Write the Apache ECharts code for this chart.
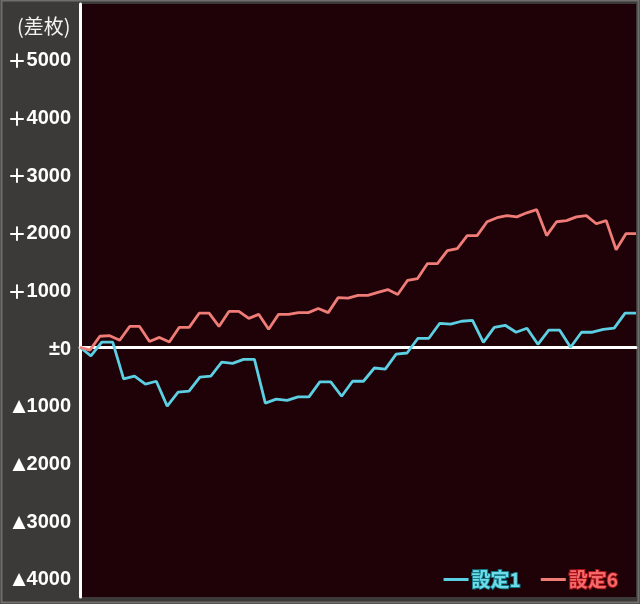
<!DOCTYPE html>
<html><head><meta charset="utf-8">
<script src="https://cdn.jsdelivr.net/npm/echarts@6/dist/echarts.min.js"></script>
<style>html,body{margin:0;padding:0;background:#3c3a39}#c{width:640px;height:604px}</style>
</head><body><div id="c"></div>
<script>
// Y-axis ticks and their labels
const yTicks = [5000, 4000, 3000, 2000, 1000, 0, -1000, -2000, -3000, -4000];
const yTickLabels = ['＋5000', '＋4000', '＋3000', '＋2000', '＋1000', '±0', '▲1000', '▲2000', '▲3000', '▲4000'];
const unitLabel = '(差枚)';
const name1 = '設定1';
const name6 = '設定6';
// 設定1 difference (coins) at each sample
const setting1 = [0, -150, 90, 90, -550, -500, -640, -590, -1020, -780, -760, -520, -500, -260, -280, -210, -210, -970, -900, -920, -860, -860, -600, -600, -850, -590, -590, -360, -380, -120, -100, 155, 155, 415, 400, 450, 465, 85, 345, 380, 260, 330, 50, 295, 295, 0, 260, 260, 310, 330, 590, 590];
// 設定6 difference (coins) at each sample
const setting6 = [0, -50, 190, 200, 120, 360, 360, 100, 170, 90, 345, 345, 590, 590, 360, 620, 620, 500, 570, 310, 570, 570, 600, 600, 670, 600, 860, 850, 900, 900, 950, 1000, 915, 1160, 1190, 1450, 1450, 1675, 1710, 1935, 1935, 2175, 2245, 2280, 2260, 2330, 2385, 1935, 2175, 2195, 2260, 2280, 2140, 2195, 1690, 1970, 1970];

const cats1 = setting1.map((_, i) => String(i));
const cats6 = setting6.map((_, i) => String(i));

function fmtLabel(v) {
  const i = yTicks.indexOf(v);
  if (i < 0) return '';
  const s = yTickLabels[i];
  if (s.charAt(0) === '▲') return '{tri|▲}{num|' + s.slice(1) + '}';
  if (s.charAt(0) === '＋') return '{plus|＋}{num|' + s.slice(1) + '}';
  return '{num|' + s + '}';
}

const chart = echarts.init(document.getElementById('c'), null, {renderer: 'canvas'});
chart.setOption({
  backgroundColor: '#3c3a39',
  animation: false,
  title: {
    text: unitLabel, left: 12, top: 11,
    textStyle: {color: '#f2f2f2', fontSize: 20, fontWeight: 'normal', fontFamily: '"Noto Sans CJK JP"'}
  },
  graphic: [{
    type: 'rect', silent: true, z: 100,
    shape: {x: 1.5, y: 0.5, width: 637, height: 602},
    style: {fill: 'none', stroke: '#6f6e6d', lineWidth: 2}
  }],
  legend: {
    right: 16, bottom: 9, icon: 'rect', itemWidth: 25, itemHeight: 3, itemGap: 19,
    textStyle: {fontSize: 19, fontWeight: 'bold', fontFamily: '"Noto Sans CJK JP"', padding: [0, 0, 0, -2]},
    data: [
      {name: name1, textStyle: {color: '#6fdbe8', textBorderColor: '#137684', textBorderWidth: 2}},
      {name: name6, textStyle: {color: '#f46a6a', textBorderColor: '#a51218', textBorderWidth: 2}}
    ]
  },
  grid: {left: 80, right: 4, top: 4, bottom: 7, show: true, backgroundColor: '#1e0207', borderWidth: 0},
  xAxis: [{
    type: 'category', data: cats1, boundaryGap: false,
    axisLine: {show: true, onZero: true, lineStyle: {color: '#ffffff', width: 3}},
    axisTick: {show: false}, axisLabel: {show: false}, splitLine: {show: false}
  }, {
    type: 'category', data: cats6, boundaryGap: false, show: false,
    axisLine: {show: false}, axisTick: {show: false}, axisLabel: {show: false}
  }],
  yAxis: {
    type: 'value', min: -4330, max: 5950,
    axisLine: {show: true, lineStyle: {color: '#ffffff', width: 3}},
    axisTick: {show: false},
    splitLine: {show: false},
    axisLabel: {
      customValues: yTicks,
      margin: 9,
      color: '#ffffff', fontSize: 20, fontWeight: 'bold',
      fontFamily: '"Liberation Sans", "Noto Sans CJK JP", sans-serif',
      formatter: fmtLabel,
      rich: {
        num: {fontSize: 20, fontWeight: 'bold', fontFamily: '"Liberation Sans"', color: '#ffffff', padding: [4, 0, 0, 0]},
        tri: {fontSize: 17, fontFamily: '"DejaVu Sans"', color: '#ffffff', padding: [4, 1, 0, 0]},
        plus: {fontSize: 19, fontWeight: 'bold', fontFamily: '"Noto Sans CJK JP"', color: '#ffffff', padding: [4, 0, 0, 0]}
      }
    }
  },
  series: [{
    name: name1, type: 'line', xAxisIndex: 0, data: setting1, showSymbol: false,
    lineStyle: {color: '#5ccfe2', width: 2.8}, itemStyle: {color: '#5ccfe2'}, z: 3
  }, {
    name: name6, type: 'line', xAxisIndex: 1, data: setting6, showSymbol: false,
    lineStyle: {color: '#f07c78', width: 2.8}, itemStyle: {color: '#f07c78'}, z: 4
  }]
});
</script></body></html>
